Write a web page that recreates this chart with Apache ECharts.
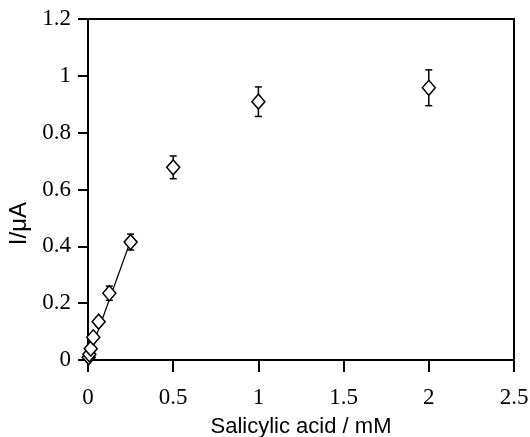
<!DOCTYPE html>
<html><head><meta charset="utf-8">
<script src="https://cdn.jsdelivr.net/npm/echarts@6/dist/echarts.min.js"></script>
<style>html,body{margin:0;padding:0;background:#fff}#c{width:530px;height:437px}</style>
</head><body><div id="c"></div>
<script>
const concX = [0.004, 0.008, 0.016, 0.031, 0.0625, 0.125, 0.25, 0.5, 1, 2];
const currentY = [0.01, 0.02, 0.04, 0.08, 0.135, 0.235, 0.415, 0.678, 0.909, 0.958];
const errY = [0.005, 0.008, 0.01, 0.012, 0.015, 0.025, 0.028, 0.04, 0.052, 0.063];
const fitX = [0, 0.25];
const fitY = [0.004, 0.42];
const xTicks = [0, 0.5, 1, 1.5, 2, 2.5];
const yTicks = [0, 0.2, 0.4, 0.6, 0.8, 1, 1.2];

const pts = concX.map((x, i) => [x, currentY[i]]);
const errs = concX.map((x, i) => [x, currentY[i] - errY[i], currentY[i] + errY[i]]);
const fit = fitX.map((x, i) => [x, fitY[i]]);

const chart = echarts.init(document.getElementById('c'), null, {renderer: 'canvas'});
const serif = 'Liberation Serif';
const sans = 'Liberation Sans';
chart.setOption({
  animation: false,
  backgroundColor: '#fff',
  grid: {left: 88, right: 16, top: 19, bottom: 77, containLabel: false, outerBoundsMode: 'none',
    show: true, borderColor: '#000', borderWidth: 2, backgroundColor: 'transparent'},
  graphic: [{
    type: 'text', left: 7, top: 202, rotation: Math.PI / 2,
    style: {text: 'I/μA', fill: '#000', font: '24px "Liberation Sans"'}
  }],
  xAxis: {
    type: 'value', min: 0, max: 2.5, interval: 0.5,
    axisLine: {show: true, lineStyle: {color: '#000', width: 2}},
    axisTick: {show: true, length: 12, lineStyle: {color: '#000', width: 2}},
    axisLabel: {color: '#000', fontFamily: serif, fontSize: 23, margin: 26,
      formatter: v => String(xTicks.find(t => Math.abs(t - v) < 1e-9) ?? v)},
    splitLine: {show: false},
    name: 'Salicylic acid / mM', nameLocation: 'middle', nameGap: 56,
    nameTextStyle: {color: '#000', fontFamily: sans, fontSize: 22}
  },
  yAxis: {
    type: 'value', min: 0, max: 1.2, interval: 0.2,
    axisLine: {show: true, lineStyle: {color: '#000', width: 2}},
    axisTick: {show: true, length: 10, lineStyle: {color: '#000', width: 2}},
    axisLabel: {color: '#000', fontFamily: serif, fontSize: 23, margin: 17,
      formatter: v => String(yTicks.find(t => Math.abs(t - v) < 1e-9) ?? v)},
    splitLine: {show: false}
  },
  series: [
    {
      type: 'line', data: fit, symbol: 'none', z: 2,
      lineStyle: {color: '#000', width: 1.3}
    },
    {
      type: 'custom', data: errs, z: 3,
      renderItem: (params, api) => {
        const x = api.value(0);
        const lo = api.coord([x, api.value(1)]);
        const hi = api.coord([x, api.value(2)]);
        const cw = 3.5;
        const st = {stroke: '#000', lineWidth: 1.5};
        return {type: 'group', children: [
          {type: 'line', shape: {x1: lo[0], y1: lo[1], x2: hi[0], y2: hi[1]}, style: st},
          {type: 'line', shape: {x1: lo[0] - cw, y1: lo[1], x2: lo[0] + cw, y2: lo[1]}, style: st},
          {type: 'line', shape: {x1: hi[0] - cw, y1: hi[1], x2: hi[0] + cw, y2: hi[1]}, style: st}
        ]};
      }
    },
    {
      type: 'scatter', data: pts, symbol: 'diamond', symbolSize: [13, 15], z: 4,
      itemStyle: {color: '#fff', opacity: 1, borderColor: '#000', borderWidth: 1.5}
    }
  ]
});
</script></body></html>
